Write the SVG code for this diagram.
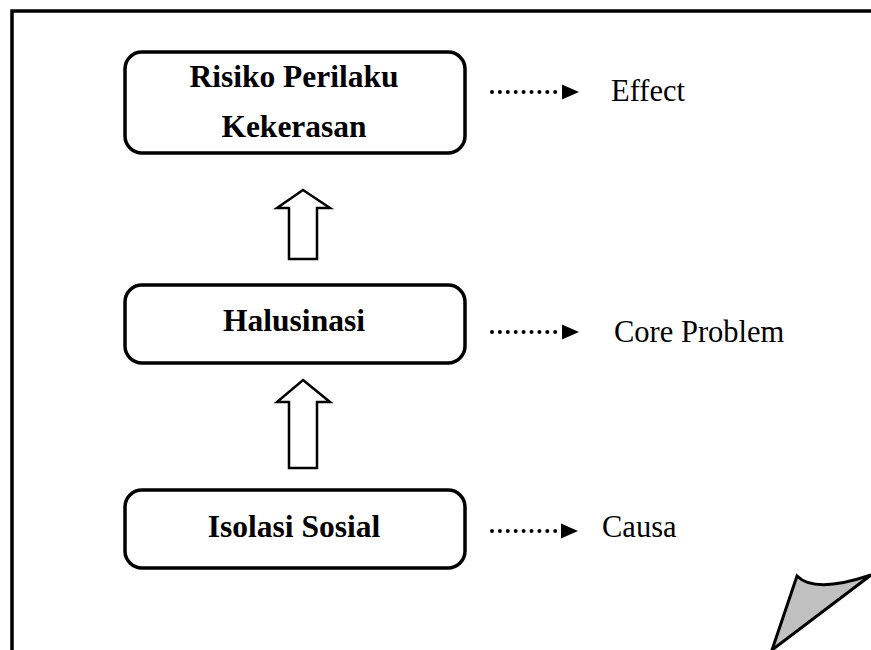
<svg xmlns="http://www.w3.org/2000/svg" width="871" height="650" viewBox="0 0 871 650">
<style>
.box{fill:#fff;stroke:#000;stroke-width:3.5}
.nt{font-family:"Liberation Serif","Times New Roman",serif;font-weight:bold;font-size:31.5px;text-anchor:middle;fill:#000}
.lt{font-family:"Liberation Serif","Times New Roman",serif;font-size:30.5px;fill:#000}
.blk{fill:#fff;stroke:#000;stroke-width:2.5;stroke-linejoin:miter}
.dot{stroke:#000;stroke-width:4;stroke-linecap:round;stroke-dasharray:0 7.9;fill:none}
.head{fill:#000}
</style>
<g id="frame">
<path d="M12,650 L12,11 L871,11" fill="none" stroke="#000" stroke-width="3.5"/>
</g>
<g id="page-curl">
<path d="M797,576 Q815,594 871,575 L772,650 Z" fill="#c0c0c0" stroke="#000" stroke-width="3" stroke-linejoin="miter"/>
</g>
<g id="node-risiko">
<rect class="box" x="125" y="52" width="340" height="101" rx="17"/>
<text class="nt" x="294" y="87">Risiko Perilaku</text>
<text class="nt" x="294" y="137">Kekerasan</text>
</g>
<g id="node-halusinasi">
<rect class="box" x="125" y="285" width="340" height="78" rx="17"/>
<text class="nt" x="294" y="331">Halusinasi</text>
</g>
<g id="node-isolasi">
<rect class="box" x="125" y="490" width="340" height="78" rx="17"/>
<text class="nt" x="294" y="537">Isolasi Sosial</text>
</g>
<g id="connectors">
<path class="blk" d="M303,190 L330,208 L317,208 L317,259 L289,259 L289,208 L277,208 Z"/>
<path class="blk" d="M303,380 L330,402 L317,402 L317,468 L289,468 L289,402 L277,402 Z"/>
<line class="dot" x1="492" y1="92" x2="563" y2="92"/>
<path class="head" d="M562,84.5 L579,92 L562,99.5 Z"/>
<line class="dot" x1="492" y1="332" x2="563" y2="332"/>
<path class="head" d="M562,324.5 L579,332 L562,339.5 Z"/>
<line class="dot" x1="492" y1="531" x2="562" y2="531"/>
<path class="head" d="M561,523.5 L578,531 L561,538.5 Z"/>
</g>
<g id="labels">
<text class="lt" x="611" y="101">Effect</text>
<text class="lt" x="614" y="342">Core Problem</text>
<text class="lt" x="602" y="537">Causa</text>
</g>
</svg>
